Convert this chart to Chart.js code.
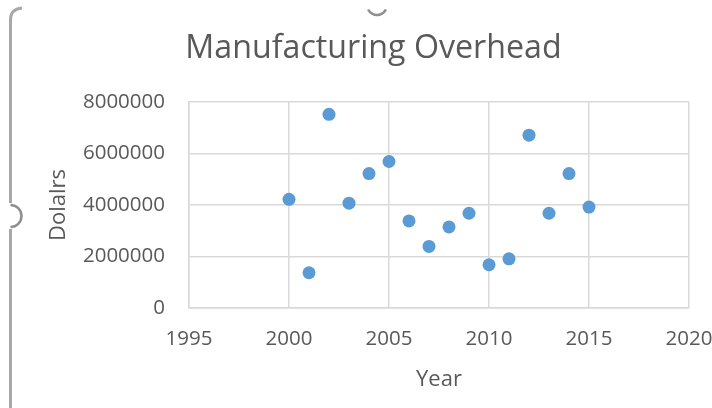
<!DOCTYPE html>
<html>
<head>
<meta charset="utf-8">
<script src="https://cdn.jsdelivr.net/npm/chart.js@4"></script>
<style>
    html, body { margin: 0; padding: 0; background: #ffffff; }
    #wrap { width: 712px; height: 408px; position: relative; }
</style>
</head>
<body>
<div id="wrap"><canvas id="chart" width="712" height="408"></canvas></div>
<script>
// values
const years = [2000, 2001, 2002, 2003, 2004, 2005, 2006, 2007, 2008, 2009, 2010, 2011, 2012, 2013, 2014, 2015];
const overhead = [4220000, 1370000, 7520000, 4070000, 5220000, 5690000, 3380000, 2390000,
                  3150000, 3680000, 1680000, 1910000, 6710000, 3680000, 5220000, 3920000];
const xTicks = [1995, 2000, 2005, 2010, 2015, 2020];
const yTicks = [0, 2000000, 4000000, 6000000, 8000000];

const chartTitle = 'Manufacturing Overhead';
const xTitle = 'Year';
const yTitle = 'Dolalrs';

const textColor = '#595959';
const gridColor = '#d9d9d9';
const pointColor = '#5b9bd5';
const fontFamily = '"Open Sans", "Liberation Sans", sans-serif';

let points = [];
for (let i = 0; i < years.length; i++) {
    points.push({x: years[i], y: overhead[i]});
}

// title sits off-centre in the Excel picture, so draw it here
const titlePlugin = {
    id: 'excelTitle',
    afterDraw(chart) {
        let ctx = chart.ctx;
        ctx.save();
        ctx.font = '32.2px ' + fontFamily;
        ctx.fillStyle = textColor;
        ctx.textAlign = 'center';
        ctx.textBaseline = 'alphabetic';
        ctx.fillText(chartTitle, 373.5, 57.5);
        ctx.restore();
    }
};

// selection frame and handles of the chart object in Excel
const framePlugin = {
    id: 'excelFrame',
    beforeDraw(chart) {
        let ctx = chart.ctx;
        ctx.save();
        ctx.strokeStyle = '#a8a8a8';
        ctx.lineWidth = 3;
        ctx.beginPath();
        ctx.moveTo(10.5, 203);
        ctx.lineTo(10.5, 20);
        ctx.quadraticCurveTo(10.5, 9, 22, 8);
        ctx.stroke();
        ctx.beginPath();
        ctx.moveTo(10.5, 229);
        ctx.lineTo(10.5, 408);
        ctx.stroke();

        ctx.strokeStyle = '#8f8f8f';
        ctx.lineWidth = 2.5;
        ctx.beginPath();
        ctx.arc(10.5, 216, 11, -Math.PI / 2, Math.PI / 2);
        ctx.stroke();
        ctx.beginPath();
        ctx.arc(377, 5, 10, 0.15 * Math.PI, 0.85 * Math.PI);
        ctx.stroke();
        ctx.restore();
    }
};

new Chart(document.getElementById('chart'), {
    type: 'scatter',
    data: {
        datasets: [{
            label: chartTitle,
            data: points,
            backgroundColor: pointColor,
            borderColor: pointColor,
            borderWidth: 0,
            pointRadius: 6.5,
            pointHoverRadius: 6.5
        }]
    },
    options: {
        responsive: false,
        animation: false,
        events: [],
        layout: {
            padding: {top: 102, right: 23, left: 0, bottom: 0}
        },
        plugins: {
            legend: {display: false},
            title: {display: false},
            tooltip: {enabled: false}
        },
        scales: {
            x: {
                type: 'linear',
                min: xTicks[0],
                max: xTicks[xTicks.length - 1],
                afterBuildTicks: scale => { scale.ticks = xTicks.map(v => ({value: v})); },
                afterFit: scale => {
                    scale.height = 100;
                    scale.paddingLeft = 0;
                    scale.paddingRight = 0;
                },
                grid: {color: gridColor, lineWidth: 1.5, drawTicks: false},
                border: {color: gridColor, width: 1.5},
                ticks: {
                    color: textColor,
                    padding: 19,
                    font: {family: fontFamily, size: 20.5},
                    callback: v => String(v)
                },
                title: {
                    display: true,
                    text: xTitle,
                    color: textColor,
                    font: {family: fontFamily, size: 22},
                    padding: {top: 0, bottom: 15}
                }
            },
            y: {
                type: 'linear',
                min: yTicks[0],
                max: yTicks[yTicks.length - 1],
                afterBuildTicks: scale => { scale.ticks = yTicks.map(v => ({value: v})); },
                afterFit: scale => {
                    scale.width = 189;
                    scale.paddingTop = 0;
                    scale.paddingBottom = 0;
                },
                grid: {color: gridColor, lineWidth: 1.5, drawTicks: false},
                border: {color: gridColor, width: 1.5},
                ticks: {
                    color: textColor,
                    padding: 24,
                    font: {family: fontFamily, size: 20.5},
                    callback: v => String(v)
                },
                title: {
                    display: true,
                    text: yTitle,
                    color: textColor,
                    font: {family: fontFamily, size: 22},
                    padding: {top: 46, bottom: 0}
                }
            }
        }
    },
    plugins: [framePlugin, titlePlugin]
});
</script>
</body>
</html>
